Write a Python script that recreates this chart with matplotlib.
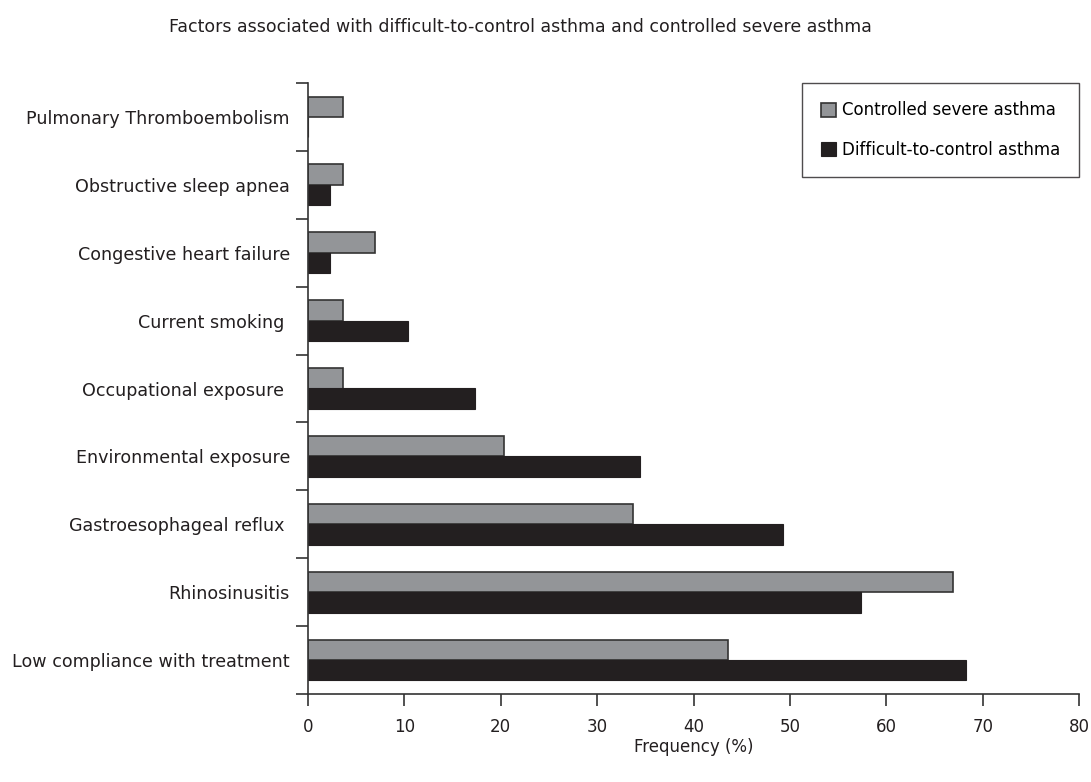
import matplotlib
matplotlib.use("Agg")
import matplotlib.pyplot as plt
import numpy as np

categories = ["Low compliance with treatment", "Rhinosinusitis", "Gastroesophageal reflux ",
              "Environmental exposure", "Occupational exposure ", "Current smoking ",
              "Congestive heart failure", "Obstructive sleep apnea", "Pulmonary Thromboembolism"]
controlled = [43.6, 66.9, 33.7, 20.3, 3.6, 3.6, 7.0, 3.6, 3.6]
difficult = [68.3, 57.4, 49.3, 34.4, 17.3, 10.4, 2.3, 2.3, 0.0]
xticks = [0, 10, 20, 30, 40, 50, 60, 70, 80]

plt.rcParams['font.family'] = ['DejaVu Sans']

fig = plt.figure(figsize=(10.91, 7.82), dpi=100)
ax = fig.add_axes([308/1091, 1-694/782, (1079-308)/1091, (694-83)/782])

y = np.arange(len(categories))
h = 0.30
gray = '#939598'
dark = '#231f20'
ax.barh(y + h/2, controlled, height=h, color=gray, edgecolor='#333333', linewidth=1.2,
        label='Controlled severe asthma')
ax.barh(y - h/2, difficult, height=h, color=dark, edgecolor=dark, linewidth=0.8,
        label='Difficult-to-control asthma')

ax.set_xlim(0, 80)
ax.set_ylim(-0.5, len(categories) - 0.5)
ax.set_xticks(xticks)
ax.set_xticklabels([str(t) for t in xticks], fontsize=12, color='#231f20')
ax.set_yticks(np.arange(-0.5, len(categories), 1.0))
ax.set_yticklabels([])
ax.set_yticks(y, minor=True)
ax.set_yticklabels(categories, minor=True, fontsize=12.6, color='#231f20')
ax.tick_params(axis='y', which='minor', length=0, pad=13)
ax.tick_params(axis='y', which='major', length=8.5, width=1.2, color='#333333')
ax.tick_params(axis='x', length=8.5, width=1.2, color='#333333', pad=9)

for s in ['top', 'right']:
    ax.spines[s].set_visible(False)
for s in ['left', 'bottom']:
    ax.spines[s].set_linewidth(1.2)
    ax.spines[s].set_color('#333333')

ax.set_xlabel('Frequency (%)', fontsize=12, color='#231f20', labelpad=1)

leg = ax.legend(loc='upper right', bbox_to_anchor=(1.0, 1.0), fontsize=12.0,
                frameon=True, fancybox=False, handlelength=0.9, handleheight=0.9,
                handletextpad=0.4, borderpad=1.1, labelspacing=1.3, borderaxespad=0)
leg.get_frame().set_edgecolor('#231f20')
leg.get_frame().set_linewidth(1.0)

fig.text(520/1091, 1-27/782, 'Factors associated with difficult-to-control asthma and controlled severe asthma',
         ha='center', va='center', fontsize=12.5, color='#231f20')

fig.savefig('out.png', dpi=100)
